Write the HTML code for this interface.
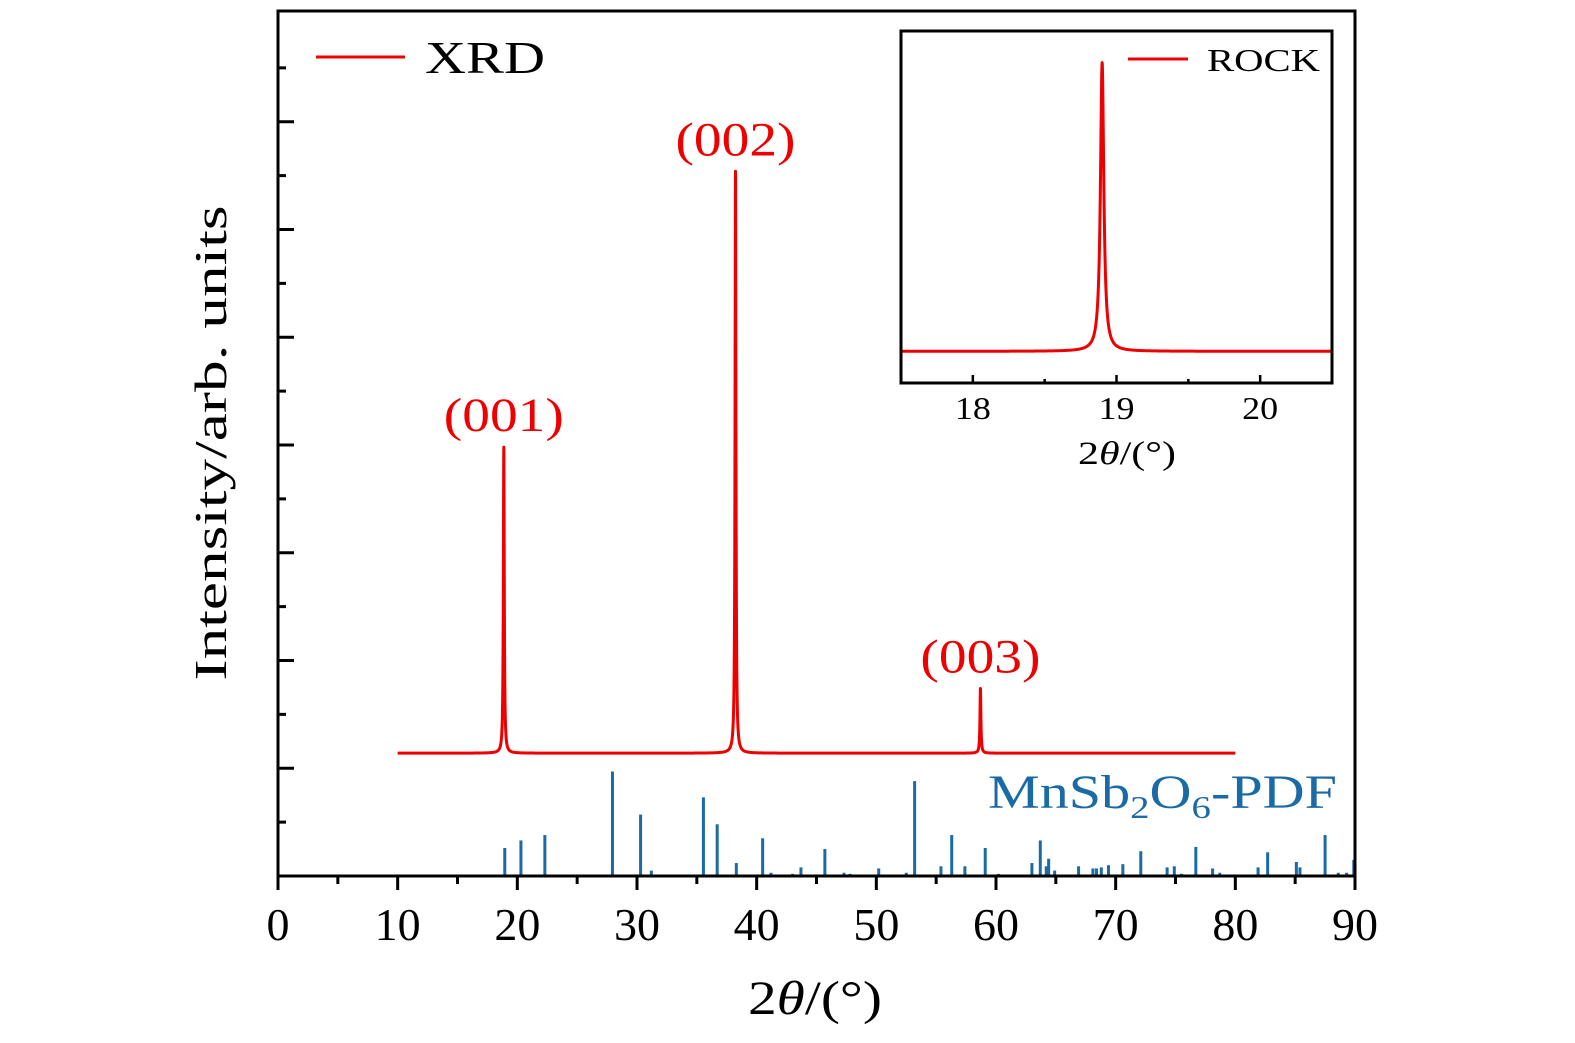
<!DOCTYPE html>
<html><head><meta charset="utf-8"><style>
html,body{margin:0;padding:0;background:#fff;}
svg{display:block;font-family:"Liberation Serif",serif;}
</style></head><body>
<svg id="chart" width="1575" height="1043" viewBox="0 0 1575 1043" xmlns="http://www.w3.org/2000/svg">
<g id="main"></g>
<g id="inset"></g>
</svg>
<script>
// ---- main chart data ----
const xTicks = [0,10,20,30,40,50,60,70,80,90];
const xMinorTicks = [5,15,25,35,45,55,65,75,85];
const yMajorTicks = [1,2,3,4,5,6,7];
const yMinorTicks = [0.5,1.5,2.5,3.5,4.5,5.5,6.5,7.5];
const xrdPeakPos = [18.87, 38.23, 58.7];
const xrdPeakHeight = [2.84, 5.40, 0.60];
const xrdPeakLabels = ["(001)","(002)","(003)"];
const xrdBaseline = 1.14;
const xrdRange = [10, 80];
const pdfPos = [18.95,20.3,22.3,27.95,30.3,31.2,35.55,36.7,38.3,40.5,41.2,43.0,43.7,45.7,47.3,47.8,50.2,52.5,53.2,
  55.4,56.3,57.4,59.1,60.2,63.0,63.7,64.2,64.4,64.9,66.9,68.1,68.4,68.8,69.4,70.6,72.1,74.3,74.9,75.5,76.7,78.1,78.7,81.9,82.7,85.1,85.4,87.5,88.6,89.3,89.9];
const pdfInt = [0.26,0.33,0.38,0.97,0.57,0.05,0.73,0.48,0.12,0.35,0.03,0.02,0.08,0.25,0.03,0.02,0.07,0.03,0.88,
  0.09,0.38,0.09,0.26,0.02,0.12,0.33,0.09,0.16,0.05,0.09,0.07,0.07,0.08,0.10,0.11,0.23,0.08,0.09,0.02,0.27,0.07,0.03,0.08,0.22,0.13,0.08,0.38,0.03,0.03,0.15];

// ---- inset data ----
const insetXTicks = [18,19,20];
const insetXMinor = [18.5,19.5];
const rockPeakPos = 18.9;
const rockPeakHeight = 0.82;
const rockBaseline = 0.09;

const NS="http://www.w3.org/2000/svg";
function mk(parent,tag,attrs,text){const e=document.createElementNS(NS,tag);for(const k in attrs)e.setAttribute(k,attrs[k]);if(text!==undefined)e.textContent=text;parent.appendChild(e);return e;}

const L=278,R=1355,T=11,B=876;
const xs=v=>L+(v-0)/(90-0)*(R-L);
const ys=v=>B-v*107.75;
const main=document.getElementById('main');

pdfPos.forEach((p,i)=>{
  const s=mk(main,'line',{x1:xs(p),x2:xs(p),y1:B,y2:B-pdfInt[i]*107.75,stroke:'#1a6aa5','stroke-width':3});
  
  
});

function xrdVal(x){let v=xrdBaseline;const w=0.045;for(let i=0;i<xrdPeakPos.length;i++){const d=x-xrdPeakPos[i];v+=xrdPeakHeight[i]*w*w/(d*d+w*w);}return v;}
let pts=[];
for(let x=xrdRange[0];x<=xrdRange[1]+1e-9;x+=0.005){pts.push(xs(x).toFixed(2)+','+ys(xrdVal(x)).toFixed(2));}
const curve=mk(main,'polyline',{points:pts.join(' '),fill:'none',stroke:'#ee0000','stroke-width':3,'stroke-linejoin':'round'});



xrdPeakPos.forEach((p,i)=>{
  const t=mk(main,'text',{x:xs(p),y:ys(xrdBaseline+xrdPeakHeight[i])-16,'text-anchor':'middle','font-size':48,fill:'#ee0000',textLength:120,lengthAdjust:'spacingAndGlyphs'},xrdPeakLabels[i]);
  
  
});

const fr=mk(main,'rect',{x:L,y:T,width:R-L,height:B-T,fill:'none',stroke:'#000','stroke-width':3});



xTicks.forEach(v=>{
  mk(main,'line',{x1:xs(v),x2:xs(v),y1:B,y2:B+14,stroke:'#000','stroke-width':3});
  const t=mk(main,'text',{x:xs(v),y:940,'text-anchor':'middle','font-size':46},String(v));
  
  
});
xMinorTicks.forEach(v=>mk(main,'line',{x1:xs(v),x2:xs(v),y1:B,y2:B+8,stroke:'#000','stroke-width':3}));
yMajorTicks.forEach(v=>mk(main,'line',{x1:L,x2:L+16,y1:ys(v),y2:ys(v),stroke:'#000','stroke-width':3}));
yMinorTicks.forEach(v=>mk(main,'line',{x1:L,x2:L+8,y1:ys(v),y2:ys(v),stroke:'#000','stroke-width':3}));

const lg=mk(main,'g',{});


mk(lg,'line',{x1:316,x2:405,y1:57,y2:57,stroke:'#ee0000','stroke-width':3});
mk(lg,'text',{x:425,y:73,'font-size':46,textLength:120,lengthAdjust:'spacingAndGlyphs'},'XRD');

const pl=mk(main,'text',{x:988,y:808,'font-size':48,fill:'#1a6aa5',textLength:349,lengthAdjust:'spacingAndGlyphs'});


pl.innerHTML='MnSb<tspan font-size="32" dy="10">2</tspan><tspan dy="-10">O</tspan><tspan font-size="32" dy="10">6</tspan><tspan dy="-10">-PDF</tspan>';

const xt=mk(main,'text',{x:748,y:1014,'font-size':48,textLength:134,lengthAdjust:'spacingAndGlyphs'});


xt.innerHTML='2<tspan font-style="italic">θ</tspan>/(°)';
const yt=mk(main,'text',{x:0,y:0,'text-anchor':'middle','font-size':46,textLength:475,lengthAdjust:'spacingAndGlyphs',transform:'translate(226,443) rotate(-90)'},'Intensity/arb. units');



// ---- inset ----
const inset=document.getElementById('inset');
const iL=901,iR=1332,iT=31,iB=383;
const ixs=v=>iL+(v-17.5)/(20.5-17.5)*(iR-iL);
const iys=v=>iB-v*(iB-iT);
function rockVal(x){const w=0.014;const d=x-rockPeakPos;return rockBaseline+rockPeakHeight*w*w/(d*d+w*w);}
let ip=[];
for(let x=17.5;x<=20.5+1e-9;x+=0.001){ip.push(ixs(x).toFixed(2)+','+iys(rockVal(x)).toFixed(2));}
const rc=mk(inset,'polyline',{points:ip.join(' '),fill:'none',stroke:'#ee0000','stroke-width':3,'stroke-linejoin':'round'});


const ifr=mk(inset,'rect',{x:iL,y:iT,width:iR-iL,height:iB-iT,fill:'none',stroke:'#000','stroke-width':3});


insetXTicks.forEach(v=>{
  mk(inset,'line',{x1:ixs(v),x2:ixs(v),y1:iB,y2:iB-8,stroke:'#000','stroke-width':2.5});
  const t=mk(inset,'text',{x:ixs(v),y:419,'text-anchor':'middle','font-size':32,textLength:36,lengthAdjust:'spacingAndGlyphs'},String(v));
  
  
});
insetXMinor.forEach(v=>mk(inset,'line',{x1:ixs(v),x2:ixs(v),y1:iB,y2:iB-4,stroke:'#000','stroke-width':2.5}));
const ixt=mk(inset,'text',{x:1078,y:464,'font-size':33,textLength:98,lengthAdjust:'spacingAndGlyphs'});


ixt.innerHTML='2<tspan font-style="italic">θ</tspan>/(°)';
const ilg=mk(inset,'g',{});


mk(ilg,'line',{x1:1128,x2:1188,y1:59,y2:59,stroke:'#ee0000','stroke-width':3});
mk(ilg,'text',{x:1207,y:71,'font-size':32,textLength:113,lengthAdjust:'spacingAndGlyphs'},'ROCK');
</script>
</body></html>
